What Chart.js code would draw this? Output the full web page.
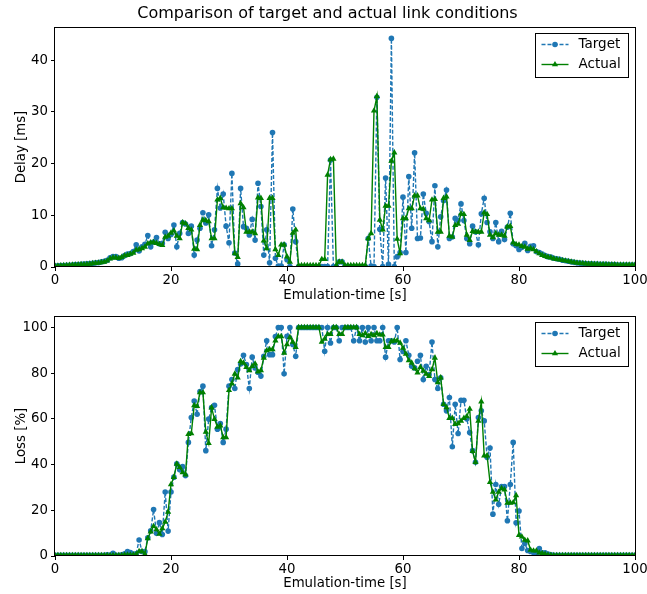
<!DOCTYPE html>
<html>
<head>
<meta charset="utf-8">
<script src="https://cdn.jsdelivr.net/npm/chart.js@4"></script>
<style>
    html, body { margin: 0; padding: 0; background: #fff; }
    #wrap { position: relative; width: 647px; height: 594px; }
    #wrap canvas { position: absolute; left: 0; display: block; }
</style>
</head>
<body>
<div id="wrap">
    <canvas id="delayChart" width="647" height="304" style="top:0"></canvas>
    <canvas id="lossChart" width="647" height="290" style="top:304px"></canvas>
</div>
<script>
// ══════════════════════════════════════════
// Target vs actual link conditions – two stacked line charts
// ══════════════════════════════════════════

// Emulation time, one sample every 0.5 s
const times = [
    0, 0.5, 1, 1.5, 2, 2.5, 3, 3.5, 4, 4.5, 5, 5.5, 6, 6.5, 7, 7.5, 8, 8.5, 9, 9.5,
    10, 10.5, 11, 11.5, 12, 12.5, 13, 13.5, 14, 14.5, 15, 15.5, 16, 16.5, 17, 17.5, 18, 18.5, 19, 19.5,
    20, 20.5, 21, 21.5, 22, 22.5, 23, 23.5, 24, 24.5, 25, 25.5, 26, 26.5, 27, 27.5, 28, 28.5, 29, 29.5,
    30, 30.5, 31, 31.5, 32, 32.5, 33, 33.5, 34, 34.5, 35, 35.5, 36, 36.5, 37, 37.5, 38, 38.5, 39, 39.5,
    40, 40.5, 41, 41.5, 42, 42.5, 43, 43.5, 44, 44.5, 45, 45.5, 46, 46.5, 47, 47.5, 48, 48.5, 49, 49.5,
    50, 50.5, 51, 51.5, 52, 52.5, 53, 53.5, 54, 54.5, 55, 55.5, 56, 56.5, 57, 57.5, 58, 58.5, 59, 59.5,
    60, 60.5, 61, 61.5, 62, 62.5, 63, 63.5, 64, 64.5, 65, 65.5, 66, 66.5, 67, 67.5, 68, 68.5, 69, 69.5,
    70, 70.5, 71, 71.5, 72, 72.5, 73, 73.5, 74, 74.5, 75, 75.5, 76, 76.5, 77, 77.5, 78, 78.5, 79, 79.5,
    80, 80.5, 81, 81.5, 82, 82.5, 83, 83.5, 84, 84.5, 85, 85.5, 86, 86.5, 87, 87.5, 88, 88.5, 89, 89.5,
    90, 90.5, 91, 91.5, 92, 92.5, 93, 93.5, 94, 94.5, 95, 95.5, 96, 96.5, 97, 97.5, 98, 98.5, 99, 99.5,
    100
];

// Delay [ms]
const targetDelay = [
    0.2, 0.25, 0.3, 0.3, 0.35, 0.35, 0.4, 0.45, 0.45, 0.5,
    0.55, 0.6, 0.65, 0.7, 0.8, 0.85, 1.0, 1.1, 1.3, 1.8,
    2.0, 2.0, 1.7, 1.8, 2.2, 2.5, 2.6, 3.0, 4.3, 3.1,
    3.9, 4.4, 6.1, 3.9, 4.8, 5.7, 4.5, 4.6, 6.7, 5.5,
    6.3, 8.1, 3.9, 6.5, 8.6, 8.3, 6.5, 7.9, 2.3, 5.2,
    7.5, 10.5, 8.5, 10.1, 4.1, 7.2, 15.2, 11.4, 14.1, 7.9,
    4.7, 18.1, 2.7, 0.6, 15.2, 7.8, 7.5, 6.2, 9.2, 5.2,
    16.2, 11.7, 2.3, 7.2, 0.8, 26.0, 1.7, 0.2, 0.2, 4.3,
    1.4, 0.1, 11.2, 4.9, 0.1, 0.1, 0.1, 0.1, 0.1, 0.1,
    0.1, 0.1, 0.1, 0.1, 0.1, 20.7, 0.1, 0.1, 1.0, 1.0,
    0.2, 0.1, 0.1, 0.1, 0.1, 0.1, 0.1, 0.1, 5.5, 0.2,
    0.1, 32.8, 7.3, 0.1, 17.2, 0.5, 44.2, 0.1, 2.0, 2.8,
    13.5, 2.8, 17.5, 7.5, 22.1, 5.5, 5.6, 14.1, 10.4, 8.8,
    4.9, 15.7, 3.9, 9.7, 12.8, 14.9, 5.5, 5.8, 9.4, 9.0,
    12.2, 9.0, 5.5, 4.5, 7.9, 6.8, 4.3, 10.3, 13.3, 8.6,
    6.8, 5.5, 8.6, 4.9, 6.9, 5.3, 7.7, 10.4, 4.5, 4.1,
    3.4, 3.8, 4.6, 3.2, 4.0, 4.1, 3.0, 2.8, 2.5, 2.2,
    2.0, 1.9, 1.7, 1.6, 1.5, 1.3, 1.2, 1.1, 1.0, 0.9,
    0.8, 0.75, 0.7, 0.65, 0.6, 0.6, 0.55, 0.55, 0.5, 0.5,
    0.5, 0.45, 0.45, 0.45, 0.4, 0.4, 0.4, 0.4, 0.4, 0.4,
    0.4
];

const actualDelay = [
    0.2, 0.2, 0.25, 0.3, 0.3, 0.35, 0.4, 0.4, 0.45, 0.5,
    0.5, 0.55, 0.6, 0.7, 0.75, 0.8, 0.9, 1.0, 1.2, 1.6,
    1.8, 1.8, 1.7, 1.9, 2.2, 2.3, 2.5, 2.7, 3.3, 3.4,
    3.6, 3.9, 4.5, 4.7, 4.8, 4.6, 4.4, 4.2, 5.8, 6.0,
    6.6, 7.0, 6.0, 5.5, 8.6, 8.4, 7.5, 7.2, 3.5, 3.4,
    8.1, 9.1, 9.0, 8.8, 5.5, 5.5, 13.0, 13.3, 11.5, 11.4,
    11.3, 11.3, 2.6, 1.9, 12.3, 11.5, 6.8, 6.8, 6.8, 6.5,
    13.4, 13.3, 5.1, 3.6, 13.3, 13.3, 3.4, 2.3, 4.3, 4.3,
    2.0, 1.0, 6.6, 7.2, 0.3, 0.3, 0.3, 0.3, 0.3, 0.3,
    0.3, 0.3, 1.5, 1.5, 17.8, 20.8, 20.9, 0.3, 1.0, 1.0,
    0.3, 0.3, 0.3, 0.3, 0.3, 0.3, 0.3, 0.3, 5.5, 6.5,
    30.2, 33.0, 9.1, 7.2, 11.8, 11.8, 20.5, 22.1, 5.4, 2.6,
    9.4, 9.4, 11.3, 11.3, 13.8, 13.8, 11.3, 11.2, 9.4, 9.0,
    13.0, 13.1, 6.8, 6.8, 13.3, 13.6, 6.0, 5.8, 8.1, 8.3,
    10.3, 10.2, 6.2, 5.2, 6.9, 6.8, 6.8, 6.8, 10.5, 10.2,
    6.2, 5.7, 6.5, 6.2, 6.2, 6.0, 7.8, 7.9, 4.7, 4.4,
    4.3, 4.0, 3.9, 3.5, 3.6, 3.4, 3.0, 2.6, 2.3, 2.1,
    1.9, 1.8, 1.6, 1.5, 1.4, 1.3, 1.2, 1.1, 1.0, 0.9,
    0.8, 0.75, 0.7, 0.65, 0.6, 0.6, 0.55, 0.55, 0.5, 0.5,
    0.5, 0.45, 0.45, 0.45, 0.4, 0.4, 0.4, 0.4, 0.4, 0.4,
    0.4
];

// Loss [%]
const targetLoss = [
    0.3, 0.3, 0.3, 0.3, 0.3, 0.3, 0.3, 0.3, 0.3, 0.3,
    0.3, 0.3, 0.3, 0.3, 0.3, 0.3, 0.3, 0.3, 0.5, 0.3,
    1.2, 0.3, 0.3, 0.5, 1.0, 1.9, 1.5, 0.8, 1.0, 7.0,
    2.0, 1.9, 8.0, 11.0, 20.3, 9.9, 14.6, 9.4, 28.0, 10.9,
    28.0, 34.5, 40.3, 37.7, 39.1, 35.2, 49.7, 60.6, 67.8, 62.0,
    71.9, 74.3, 46.1, 59.9, 64.9, 65.9, 55.5, 58.0, 49.7, 55.5,
    74.3, 77.2, 73.3, 81.6, 84.0, 87.8, 83.8, 73.3, 87.0, 82.3,
    80.4, 78.7, 87.4, 94.2, 88.1, 88.1, 96.0, 100, 100, 79.7,
    96.1, 100, 92.5, 87.4, 100, 100, 100, 100, 100, 100,
    100, 100, 100, 89.6, 100, 93.2, 100, 100, 94.2, 100,
    100, 100, 100, 94.2, 100, 94.2, 100, 93.6, 100, 94.2,
    100, 94.2, 94.2, 100, 87.0, 94.2, 94.2, 93.6, 100, 86.0,
    89.6, 94.2, 87.8, 83.0, 82.3, 85.2, 87.8, 77.2, 83.0, 79.4,
    93.6, 77.2, 73.3, 78.0, 66.4, 63.5, 69.3, 47.8, 66.4, 53.6,
    68.1, 68.1, 60.0, 54.0, 46.1, 41.0, 60.6, 63.5, 59.1, 43.2,
    47.2, 18.3, 31.3, 22.6, 30.4, 30.4, 15.4, 31.3, 49.7, 14.5,
    19.7, 3.3, 5.5, 2.4, 2.0, 1.5, 1.0, 3.3, 1.4, 1.4,
    0.8, 0.5, 0.3, 0.3, 0.3, 0.3, 0.3, 0.3, 0.3, 0.3,
    0.3, 0.3, 0.3, 0.3, 0.3, 0.3, 0.3, 0.3, 0.3, 0.3,
    0.3, 0.3, 0.3, 0.3, 0.3, 0.3, 0.3, 0.3, 0.3, 0.3,
    0.3
];

const actualLoss = [
    0.3, 0.3, 0.3, 0.3, 0.3, 0.3, 0.3, 0.3, 0.3, 0.3,
    0.3, 0.3, 0.3, 0.3, 0.3, 0.3, 0.3, 0.3, 0.3, 0.3,
    0.3, 0.3, 0.3, 0.3, 0.5, 0.5, 0.5, 0.5, 0.8, 2.0,
    2.0, 0.8, 7.7, 10.6, 13.0, 11.6, 9.6, 12.0, 14.9, 19.3,
    31.3, 34.5, 40.3, 38.8, 36.6, 35.6, 53.3, 53.6, 65.9, 65.5,
    71.5, 71.5, 54.3, 49.3, 64.9, 59.9, 56.5, 57.0, 51.9, 51.9,
    72.5, 75.4, 79.7, 78.0, 85.2, 84.5, 82.6, 81.2, 83.0, 84.1,
    80.6, 81.2, 86.7, 89.9, 90.4, 90.4, 94.2, 96.1, 96.1, 88.8,
    92.5, 95.7, 93.6, 91.3, 100, 100, 100, 100, 100, 100,
    100, 100, 93.6, 95.0, 97.0, 97.0, 100, 100, 97.0, 97.0,
    100, 100, 100, 100, 100, 97.0, 96.5, 97.4, 96.2, 97.0,
    96.5, 97.4, 96.8, 96.8, 91.3, 91.3, 93.9, 94.2, 94.2, 93.2,
    91.0, 88.4, 85.5, 84.5, 82.0, 80.2, 82.6, 81.0, 79.7, 78.7,
    81.6, 86.7, 75.9, 78.0, 66.4, 65.0, 60.3, 60.3, 57.7, 58.0,
    59.1, 60.3, 61.0, 64.3, 45.8, 41.0, 59.1, 67.5, 43.9, 43.9,
    32.3, 28.0, 24.6, 28.0, 29.6, 29.0, 23.2, 23.2, 23.4, 26.5,
    9.1, 8.4, 7.0, 6.7, 2.6, 2.3, 2.3, 1.4, 1.2, 0.8,
    0.5, 0.4, 0.3, 0.3, 0.3, 0.3, 0.3, 0.3, 0.3, 0.3,
    0.3, 0.3, 0.3, 0.3, 0.3, 0.3, 0.3, 0.3, 0.3, 0.3,
    0.3, 0.3, 0.3, 0.3, 0.3, 0.3, 0.3, 0.3, 0.3, 0.3,
    0.3
];

const xTicks = [0, 20, 40, 60, 80, 100];
const delayTicks = [0, 10, 20, 30, 40];
const lossTicks = [0, 20, 40, 60, 80, 100];

const TARGET_COLOR = '#1f77b4';
const ACTUAL_COLOR = '#008000';
const FONT = 'DejaVu Sans';
const FIG_TITLE = 'Comparison of target and actual link conditions';

Chart.defaults.font.family = FONT;
Chart.defaults.font.size = 13.3;
Chart.defaults.color = '#000';

function pairs(values) {
    return times.map((t, i) => ({ x: t, y: values[i] }));
}

function drawMarker(ctx, style, x, y, r) {
    ctx.beginPath();
    if (style === 'triangle') {
        let rad = 0;
        ctx.moveTo(x + Math.sin(rad) * r, y - Math.cos(rad) * r);
        rad += Math.PI * 2 / 3;
        ctx.lineTo(x + Math.sin(rad) * r, y - Math.cos(rad) * r);
        rad += Math.PI * 2 / 3;
        ctx.lineTo(x + Math.sin(rad) * r, y - Math.cos(rad) * r);
        ctx.closePath();
    } else {
        ctx.arc(x, y, r, 0, Math.PI * 2);
    }
    ctx.fill();
}

// Figure-level title (centred on the whole figure, like suptitle)
const figTitlePlugin = {
    id: 'figTitle',
    afterDraw(chart, args, opts) {
        if (!opts.text) return;
        const { ctx } = chart;
        ctx.save();
        ctx.fillStyle = '#000';
        ctx.font = `16px "${FONT}"`;
        ctx.textAlign = 'center';
        ctx.textBaseline = 'middle';
        ctx.fillText(opts.text, 327.5, 14);
        ctx.restore();
    }
};

// Axes box (all four spines) + matplotlib-style legend
const boxPlugin = {
    id: 'boxAndLegend',
    afterDatasetsDraw(chart) {
        const { ctx, chartArea: a } = chart;
        ctx.save();

        // frame
        ctx.strokeStyle = '#000';
        ctx.lineWidth = 1;
        ctx.strokeRect(Math.round(a.left) - 0.5, Math.round(a.top) + 0.5,
            Math.round(a.right - a.left) + 1, Math.round(a.bottom - a.top) - 1);

        // legend
        const bx = Math.round(a.right) - 99.5;
        const by = Math.round(a.top) + 6.5;
        ctx.fillStyle = '#fff';
        ctx.fillRect(bx, by, 93, 44);
        ctx.strokeRect(bx, by, 93, 44);

        const entries = [
            { label: 'Target', color: TARGET_COLOR, dash: [4, 2], marker: 'circle', r: 2.8 },
            { label: 'Actual', color: ACTUAL_COLOR, dash: [], marker: 'triangle', r: 3.6 },
        ];
        entries.forEach((e, i) => {
            const y = by + 11 + i * 20;
            ctx.strokeStyle = e.color;
            ctx.lineWidth = 1.4;
            ctx.setLineDash(e.dash);
            ctx.beginPath();
            ctx.moveTo(bx + 6, y);
            ctx.lineTo(bx + 33, y);
            ctx.stroke();
            ctx.setLineDash([]);
            ctx.fillStyle = e.color;
            drawMarker(ctx, e.marker, bx + 19.5, y, e.r);
            ctx.fillStyle = '#000';
            ctx.font = `13.5px "${FONT}"`;
            ctx.textBaseline = 'middle';
            ctx.textAlign = 'left';
            ctx.fillText(e.label, bx + 43, y);
        });
        ctx.restore();
    }
};

function makeChart(canvasId, opts) {
    const ctx = document.getElementById(canvasId).getContext('2d');

    return new Chart(ctx, {
        type: 'line',
        data: {
            datasets: [{
                label: 'Target',
                data: pairs(opts.target),
                borderColor: TARGET_COLOR,
                backgroundColor: TARGET_COLOR,
                borderWidth: 1.4,
                borderDash: [4, 2],
                pointStyle: 'circle',
                pointRadius: 2.8,
                pointBorderWidth: 0,
                pointBackgroundColor: TARGET_COLOR,
                tension: 0,
                order: 1,
            }, {
                label: 'Actual',
                data: pairs(opts.actual),
                borderColor: ACTUAL_COLOR,
                backgroundColor: ACTUAL_COLOR,
                borderWidth: 1.4,
                pointStyle: 'triangle',
                pointRadius: 3.6,
                pointBorderWidth: 0,
                pointBackgroundColor: ACTUAL_COLOR,
                tension: 0,
                order: 0,
            }]
        },
        options: {
            responsive: false,
            animation: false,
            events: [],
            layout: { padding: { top: opts.padTop, right: 12, bottom: opts.padBottom, left: 0 } },
            plugins: {
                legend: { display: false },
                tooltip: { enabled: false },
                title: { display: false },
                figTitle: { text: opts.title },
            },
            scales: {
                x: {
                    type: 'linear',
                    min: 0,
                    max: 100,
                    afterBuildTicks: (s) => { s.ticks = xTicks.map(v => ({ value: v })); },
                    afterFit: (s) => { s.height = opts.xAxisHeight; s.paddingLeft = 0; s.paddingRight = 0; },
                    grid: { display: true, drawOnChartArea: false, drawTicks: true, tickLength: 4, color: '#000' },
                    border: { display: false },
                    ticks: { padding: 2, maxRotation: 0, autoSkip: false, callback: (v) => String(v) },
                    title: { display: true, text: 'Emulation-time [s]', padding: { top: 0, bottom: 0 } },
                },
                y: {
                    type: 'linear',
                    min: 0,
                    max: opts.yMax,
                    afterBuildTicks: (s) => { s.ticks = opts.yTicks.map(v => ({ value: v })); },
                    afterFit: (s) => { s.width = 55; s.paddingTop = 0; s.paddingBottom = 0; },
                    grid: { display: true, drawOnChartArea: false, drawTicks: true, tickLength: 4, color: '#000' },
                    border: { display: false },
                    ticks: { padding: 3, autoSkip: false, callback: (v) => String(v) },
                    title: { display: true, text: opts.yLabel, padding: { top: 14, bottom: 0 } },
                }
            }
        },
        plugins: [boxPlugin, figTitlePlugin]
    });
}

makeChart('delayChart', {
    target: targetDelay,
    actual: actualDelay,
    title: FIG_TITLE,
    yLabel: 'Delay [ms]',
    yMax: 46.4,
    yTicks: delayTicks,
    padTop: 27,
    padBottom: 0,
    xAxisHeight: 37,
});

makeChart('lossChart', {
    target: targetLoss,
    actual: actualLoss,
    title: null,
    yLabel: 'Loss [%]',
    yMax: 105,
    yTicks: lossTicks,
    padTop: 12,
    padBottom: 2,
    xAxisHeight: 36,
});
</script>
</body>
</html>
